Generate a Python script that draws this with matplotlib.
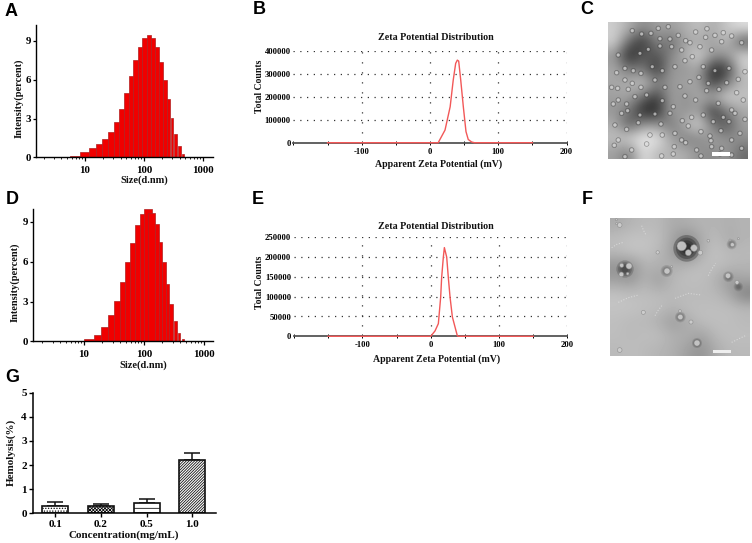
import numpy as np
import matplotlib
matplotlib.use("Agg")
import matplotlib.pyplot as plt
from matplotlib.patches import Circle, Rectangle

W, H = 752, 543
SERIF = "Liberation Serif"
SANS = "Liberation Sans"

# ==========================
# DATA
# ==========================
# size distribution A (bar edges in nm, height in percent)
a_left = [5.57, 8.2, 11.7, 15.6, 19.7, 24.8, 31.0, 38.2, 46.4, 55.7, 66.0, 79.1, 93.7, 111, 131, 154, 177, 207, 242, 283, 326, 377, 440]
a_right = [8.2, 11.7, 15.6, 19.7, 24.8, 31.0, 38.2, 46.4, 55.7, 66.0, 79.1, 93.7, 111, 131, 154, 177, 207, 242, 276, 314, 362, 418, 476]
a_height = [0.12, 0.38, 0.72, 1.03, 1.42, 1.95, 2.72, 3.75, 4.95, 6.25, 7.5, 8.55, 9.22, 9.48, 9.22, 8.5, 7.38, 6.0, 4.5, 3.05, 1.8, 0.85, 0.25]

# size distribution D
d_left = [10, 14.5, 19.4, 24.8, 31.6, 39.8, 48.8, 58.4, 70.8, 84.8, 100, 118, 154, 176, 200, 230, 264, 313, 364, 425]
d_right = [14.5, 19.4, 24.8, 31.6, 39.8, 48.8, 58.4, 70.8, 84.8, 100, 136, 154, 176, 200, 230, 264, 304, 351, 403, 464]
d_height = [0.15, 0.5, 1.07, 1.95, 3.05, 4.45, 5.95, 7.45, 8.75, 9.6, 9.95, 9.7, 8.85, 7.5, 5.95, 4.3, 2.8, 1.5, 0.65, 0.15]

# zeta curves
b_mv = [-150, 12, 22, 29.5, 34, 37.6, 40, 42, 45, 48.8, 52.7, 56, 61, 65, 150]
b_counts = [0, 0, 55000, 156000, 272000, 345000, 359000, 355000, 272000, 156000, 48000, 14000, 3000, 0, 0]
e_mv = [-150, 0, 6.3, 11.2, 14.6, 16, 18.5, 20, 23.4, 25.8, 28.3, 31.7, 39, 41, 150]
e_counts = [0, 0, 13500, 32000, 99000, 148000, 200000, 224000, 200000, 148000, 99000, 49000, 1000, 0, 0]

# hemolysis
conc = ["0.1", "0.2", "0.5", "1.0"]
hemo = [0.3, 0.32, 0.42, 2.2]
hemo_err = [0.15, 0.08, 0.16, 0.3]
hatches = ["......", "xxxxxxxxxx", "---", "////////////"]

# micrograph C: background grey levels + particles, in crop coordinates
c_grey = [
    [205, 175, 140, 160, 160, 175, 195, 170, 200, 225],
    [210, 105, 45, 140, 105, 165, 165, 160, 190, 85],
    [150, 30, 95, 80, 135, 175, 215, 150, 150, 215],
    [170, 120, 125, 45, 160, 145, 170, 35, 55, 200],
    [165, 175, 205, 135, 150, 165, 165, 55, 125, 185],
    [160, 165, 110, 55, 165, 140, 170, 175, 215, 195],
    [150, 120, 35, 35, 165, 145, 160, 45, 130, 170],
    [175, 85, 150, 150, 115, 175, 220, 120, 75, 160],
    [190, 215, 235, 235, 165, 125, 135, 165, 145, 145],
    [160, 120, 225, 185, 180, 175, 145, 135, 155, 105],
]
c_x = [200, 228, 255, 285, 310, 332, 362, 396, 420, 250, 280, 172, 392, 445, 470,
       195, 220, 255, 290, 320, 345, 375, 410, 440, 500, 130, 150, 175,
       198, 232, 262, 300, 330, 352, 385, 420, 462, 490, 510, 125, 150, 172,
       160, 198, 240, 270, 315, 345, 372, 400, 432, 455, 485, 110, 130,
       128, 155, 180, 215, 262, 295, 330, 362, 395, 430, 470, 505,
       115, 140, 158, 195, 240, 285, 322, 350, 385, 415, 445, 480, 510,
       120, 155, 190, 225, 258, 300, 340, 378, 405, 438, 462, 495,
       130, 170, 215, 262, 298, 332, 365, 408, 440, 470, 500,
       118, 150, 260, 295, 320, 378, 410, 435, 470]
c_y = [102, 100, 116, 117, 106, 122, 96, 86, 106, 85, 80, 92, 112, 98, 108,
       160, 148, 138, 140, 150, 128, 140, 150, 125, 128, 165, 205, 212,
       220, 200, 212, 200, 182, 170, 200, 212, 205, 238, 215, 218, 240, 250,
       268, 262, 240, 262, 260, 245, 232, 250, 268, 248, 278, 262, 300,
       265, 312, 290, 285, 302, 320, 288, 300, 272, 310, 330, 300,
       312, 340, 332, 345, 342, 340, 362, 352, 345, 365, 352, 340, 358,
       375, 388, 368, 405, 372, 400, 378, 395, 408, 392, 365, 400,
       420, 450, 432, 405, 440, 428, 450, 422, 445, 420, 445,
       436, 470, 468, 462, 420, 468, 440, 462, 465]

# micrograph F
f_grey = [
    [170, 180, 185, 185, 170, 175, 180, 180, 175, 180],
    [190, 195, 195, 190, 165, 135, 170, 190, 170, 180],
    [185, 195, 195, 185, 160, 125, 175, 195, 185, 185],
    [145, 140, 180, 175, 175, 185, 190, 190, 185, 180],
    [160, 150, 180, 155, 185, 190, 190, 180, 150, 165],
    [195, 190, 190, 185, 185, 185, 185, 185, 170, 125],
    [195, 195, 190, 190, 180, 190, 190, 190, 190, 185],
    [190, 185, 185, 175, 155, 170, 190, 190, 190, 185],
    [190, 185, 190, 190, 175, 175, 160, 185, 190, 190],
    [185, 190, 185, 180, 175, 160, 145, 170, 185, 185],
]
f_halo_x = [335, 150, 275, 470, 316, 366, 460, 490]
f_halo_y = [190, 252, 258, 178, 396, 474, 275, 305]
f_halo_r = [40, 26, 18, 15, 16, 15, 16, 14]
f_halo_a = [0.32, 0.2, 0.12, 0.12, 0.13, 0.15, 0.12, 0.1]
f_x = [320, 357, 340, 376, 162, 140, 139, 158, 276, 290, 472, 490, 465, 459, 486, 316, 315, 348, 366, 134, 134, 124, 125, 248, 400, 205]
f_y = [183, 189, 203, 203, 243, 241, 268, 266, 258, 245, 179, 161, 165, 272, 292, 396, 378, 411, 474, 495, 120, 104, 116, 202, 167, 382]
f_r = [14, 10, 9, 7, 9, 6, 7, 4, 9, 3, 6, 3, 3, 8, 6, 8, 4, 6, 9, 7, 7, 3, 3, 5, 4, 6]
f_strand_x = [[110, 125, 145], [200, 205, 212], [400, 410, 422], [130, 160, 190], [240, 250, 262], [470, 490, 515], [300, 340, 380]]
f_strand_y = [[188, 178, 172], [122, 135, 148], [272, 252, 235], [352, 338, 330], [392, 375, 360], [472, 462, 450], [340, 325, 330]]


# ==========================
# HELPERS
# ==========================
fig = plt.figure(figsize=(W / 100, H / 100), dpi=100, facecolor="white")
plt.rcParams["hatch.linewidth"] = 0.6


def box(left, top, right, bottom):
    return fig.add_axes([left / W, 1 - bottom / H, (right - left) / W, (bottom - top) / H])


def label(x, y, s, size=7.5, rotation=0):
    fig.text(x / W, 1 - y / H, s, family=SERIF, weight="bold", fontsize=size, rotation=rotation,
             ha="center", va="center", color="#111111")


def letter(x, y, s):
    fig.text(x / W, 1 - y / H, s, family=SANS, weight="bold", fontsize=13, ha="center", va="center", color="black")


def bold_ticks(ax, size):
    for t in ax.get_xticklabels() + ax.get_yticklabels():
        t.set_family(SERIF)
        t.set_weight("bold")
        t.set_fontsize(size)


def size_panel(pos, left, right, height, ylim, xlim):
    ax = box(*pos)
    left = np.array(left)
    right = np.array(right)
    ax.bar(left, height, width=right - left, align="edge", color="#f00000", edgecolor="#b02020", linewidth=0.5)
    ax.set_xscale("log")
    ax.set_xlim(*xlim)
    ax.set_ylim(*ylim)
    ax.set_yticks([0, 3, 6, 9])
    ax.set_xticks([10, 100, 1000])
    ax.set_xticklabels(["10", "100", "1000"])
    ax.tick_params(axis="x", which="major", length=3, width=0.9, pad=3)
    ax.tick_params(axis="y", which="major", length=2.5, width=0.9, pad=1)
    ax.tick_params(axis="x", which="minor", length=1.5, width=0.6)
    ax.spines[["top", "right"]].set_visible(False)
    ax.spines[["left", "bottom"]].set_linewidth(1.0)
    bold_ticks(ax, 7.8)
    return ax


def zeta_panel(pos, mv, counts, yticks):
    ax = box(*pos)
    ax.set_xlim(-200, 200)
    ax.set_ylim(0, yticks[-1])
    ax.hlines(yticks[1:], -200, 200, color="#333333", linewidth=0.9, linestyle=(0, (1, 4.4)))
    ax.vlines([-100, 0, 100, 200], 0, yticks[-1], color="#333333", linewidth=0.9, linestyle=(0, (1, 7)))
    ax.axhline(0, color="#555555", linewidth=1.3, clip_on=False)
    ax.plot(mv, counts, color="#f25858", linewidth=1.0, clip_on=False)
    ax.set_xticks([-200, -150, -100, -50, 0, 50, 100, 150, 200])
    ax.set_xticklabels(["", "", "-100", "", "0", "", "100", "", "200"])
    ax.set_yticks(yticks)
    ax.tick_params(axis="x", length=3, width=0.7, direction="inout", pad=2)
    ax.tick_params(axis="y", length=0, pad=2)
    for s in ax.spines.values():
        s.set_visible(False)
    bold_ticks(ax, 6.2)
    return ax


def tem_panel(pos, grey, x0, x1, y0, y1):
    ax = box(*pos)
    ax.imshow(grey, cmap="gray", vmin=0, vmax=255, extent=(x0, x1, y1, y0), interpolation="bicubic", aspect="auto")
    ax.set_xlim(x0, x1)
    ax.set_ylim(y1, y0)
    ax.axis("off")
    return ax


# ==========================
# A, D: SIZE
# ==========================
size_panel((36, 25, 213, 157.3), a_left, a_right, a_height, (0, 10.23), (1.48, 1476))
label(144, 180, "Size(d.nm)", 7.5)
label(19, 98, "Intensity(percent)", 7.5, 90)

size_panel((33, 209, 213, 341.3), d_left, d_right, d_height, (0, 9.98), (1.41, 1413))
label(143, 365, "Size(d.nm)", 7.5)
label(15, 282, "Intensity(percent)", 7.5, 90)

# ==========================
# B, E: ZETA
# ==========================
zeta_panel((293.4, 50.7, 566.6, 142.7), b_mv, b_counts, [0, 100000, 200000, 300000, 400000])
label(436, 38, "Zeta Potential Distribution", 7.2)
label(439, 164.5, "Apparent Zeta Potential (mV)", 7.1)
label(260, 86, "Total Counts", 6.9, 90)

zeta_panel((294, 237.3, 567.4, 336.3), e_mv, e_counts, [0, 50000, 100000, 150000, 200000, 250000])
label(436, 227, "Zeta Potential Distribution", 7.2)
label(437, 359.5, "Apparent Zeta Potential (mV)", 7.1)
label(260, 282, "Total Counts", 6.9, 90)

# ==========================
# G: HEMOLYSIS
# ==========================
ax = box(33, 392.7, 215.7, 513.3)
xpos = np.arange(len(conc))
ax.bar(xpos, hemo, width=0.57, color="white", edgecolor="#111111", linewidth=1.2, hatch=hatches, zorder=2)
ax.errorbar(xpos, hemo, yerr=[np.zeros(len(conc)), hemo_err], fmt="none", ecolor="#111111",
            elinewidth=1.1, capsize=5.5, capthick=1.1, zorder=1)
ax.set_xlim(-0.488, 3.51)
ax.set_ylim(0, 5)
ax.set_xticks(xpos)
ax.set_xticklabels(conc)
ax.set_yticks([0, 1, 2, 3, 4, 5])
ax.tick_params(axis="both", length=3, width=1.0, pad=1.5)
ax.spines[["top", "right"]].set_visible(False)
ax.spines[["left", "bottom"]].set_linewidth(1.1)
bold_ticks(ax, 8)
label(124, 535, "Concentration(mg/mL)", 8)
label(11, 452, "Hemolysis(%)", 8, 90)

# ==========================
# C, F: MICROGRAPHS
# ==========================
ax_c = tem_panel((608.3, 21.7, 748.3, 159), c_grey, 100, 520, 65, 477)
for x, y in zip(c_x, c_y):
    ax_c.add_patch(Circle((x, y), 7, facecolor="none", edgecolor="#444444", linewidth=0.5, alpha=0.5))
    ax_c.add_patch(Circle((x, y), 4.5, facecolor="#dddddd", edgecolor="none", alpha=0.65))
ax_c.add_patch(Rectangle((410, 457), 55, 10, facecolor="white", edgecolor="none"))

ax_f = tem_panel((610, 217.7, 750, 355.7), f_grey, 105, 525, 98, 512)
for x, y, r, a in zip(f_halo_x, f_halo_y, f_halo_r, f_halo_a):
    for k in [1.0, 0.8, 0.6, 0.4]:
        ax_f.add_patch(Circle((x, y), r * k, facecolor="#1a1a1a", edgecolor="none", alpha=a))
for xs, ys in zip(f_strand_x, f_strand_y):
    ax_f.plot(xs, ys, color="white", linewidth=0.8, linestyle=(0, (1, 1.5)), alpha=0.4)
for x, y, r in zip(f_x, f_y, f_r):
    ax_f.add_patch(Circle((x, y), r, facecolor="#cfcfcf", edgecolor="#888888", linewidth=0.4, alpha=0.9))
ax_f.add_patch(Rectangle((415, 494), 53, 10, facecolor="#eeeeee", edgecolor="none"))

# ==========================
# PANEL LETTERS
# ==========================
for x, y, s in [(11, 12, "A"), (259, 10, "B"), (587, 10, "C"),
                (12, 199, "D"), (258, 199, "E"), (587, 199, "F"), (12, 377, "G")]:
    letter(x, y, s)

fig.savefig("out.png", dpi=100)
